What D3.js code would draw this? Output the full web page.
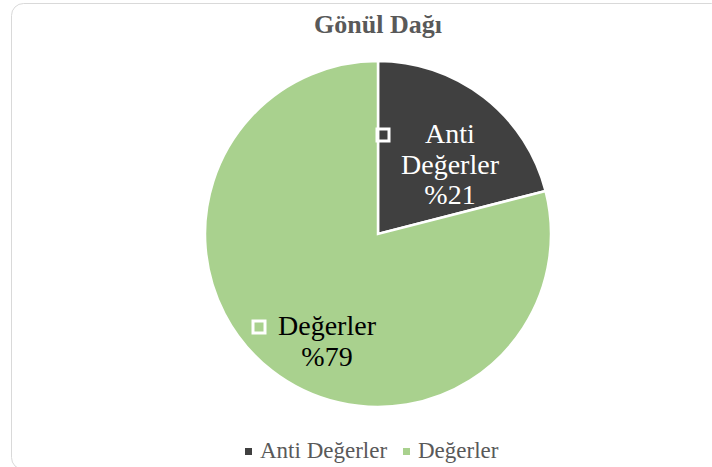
<!DOCTYPE html>
<html>
<head>
    <meta charset="utf-8">
    <script src="https://d3js.org/d3.v7.min.js"></script>
    <style>
        body { margin: 0; background: #fff; }
        text { font-family: "Liberation Serif", "Times New Roman", serif; }
    </style>
</head>
<body>
    <div id="chart"></div>
    <script>
        // chart data
        var categories = ["Anti Değerler", "Değerler"];
        var values = [21, 79];
        var labelLines = [["Anti", "Değerler", "%21"], ["Değerler", "%79"]];
        var colors = ["#404040", "#A9D18E"];

        var width = 712, height = 467;
        var cx = 378, cy = 234, radius = 173;

        var svg = d3.select("#chart").append("svg")
            .attr("width", width)
            .attr("height", height);

        // chart frame
        svg.append("rect")
            .attr("x", 11.5).attr("y", 3.5)
            .attr("width", 712).attr("height", 466)
            .attr("rx", 12)
            .attr("fill", "#fff")
            .attr("stroke", "#d9d9d9");

        svg.append("text")
            .attr("x", cx).attr("y", 33)
            .attr("text-anchor", "middle")
            .attr("font-size", 26).attr("font-weight", "bold")
            .attr("fill", "#595959")
            .text("Gönül Dağı");

        var pie = d3.pie().sort(null).value(function (d) { return d; });
        var arc = d3.arc().innerRadius(0).outerRadius(radius);
        var arcs = pie(values);

        var g = svg.append("g").attr("transform", "translate(" + cx + "," + cy + ")");

        g.selectAll("path")
            .data(arcs)
            .enter()
            .append("path")
            .attr("d", arc)
            .attr("fill", function (d, i) { return colors[i]; })
            .attr("stroke", "#fff")
            .attr("stroke-width", 2.5);

        // data labels (positioned as in the reference)
        var labelPos = [[72, -91], [-51, 101]];
        var markerPos = [[5, -99], [-119, 93]];
        var textColor = ["#fff", "#000"];

        arcs.forEach(function (d, i) {
            var lines = labelLines[i];
            var t = g.append("text")
                .attr("text-anchor", "middle")
                .attr("font-size", 28)
                .attr("fill", textColor[i]);
            lines.forEach(function (l, j) {
                t.append("tspan")
                    .attr("x", labelPos[i][0])
                    .attr("y", labelPos[i][1] + j * 30.5)
                    .text(l);
            });
            g.append("rect")
                .attr("x", markerPos[i][0] - 6)
                .attr("y", markerPos[i][1] - 6)
                .attr("width", 12).attr("height", 12)
                .attr("fill", "none")
                .attr("stroke", "#fff")
                .attr("stroke-width", 3);
        });

        // legend
        var legendX = [245, 403];
        var legend = svg.append("g");
        categories.forEach(function (c, i) {
            legend.append("rect")
                .attr("x", legendX[i]).attr("y", 448)
                .attr("width", 7).attr("height", 7)
                .attr("fill", colors[i]);
            legend.append("text")
                .attr("x", legendX[i] + 15).attr("y", 458)
                .attr("font-size", 23)
                .attr("fill", "#595959")
                .text(c);
        });
    </script>
</body>
</html>
